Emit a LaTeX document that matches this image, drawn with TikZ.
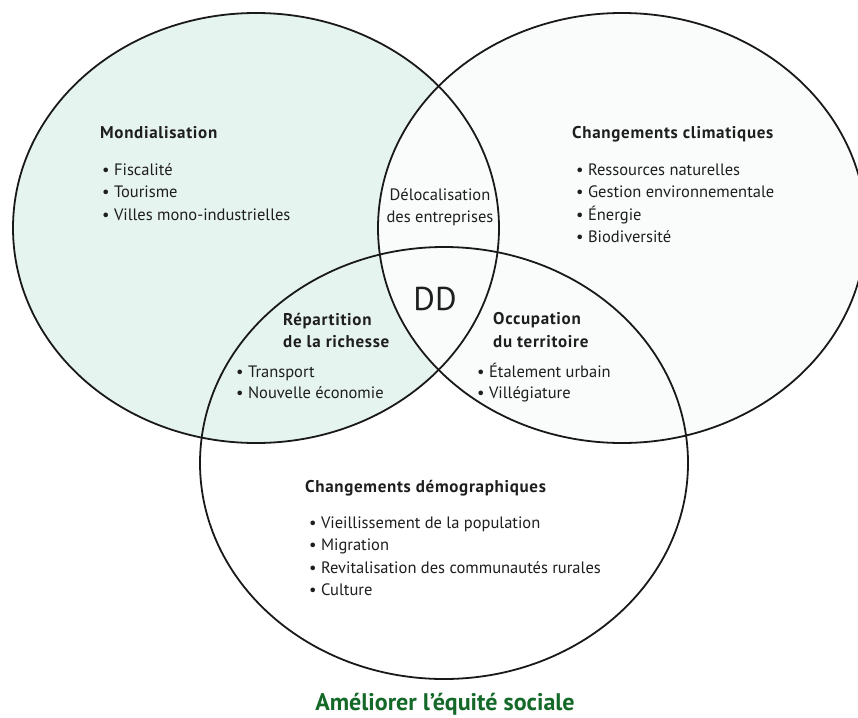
\documentclass[tikz,border=0pt]{standalone}
\usepackage{fontspec}
\setmainfont{PT Sans}
\definecolor{teal1}{RGB}{230,244,240}
\definecolor{faint}{RGB}{250,252,251}
\definecolor{linec}{RGB}{25,25,25}
\definecolor{txt}{RGB}{30,30,30}
\definecolor{green1}{RGB}{20,105,40}
\begin{document}
\begin{tikzpicture}[x=1pt,y=-1pt,
  outline/.style={draw=linec,line width=1.8pt},
  lbl/.style={anchor=base west,inner sep=0pt,text=txt,font=\fontsize{16.5}{19}\selectfont},
  head/.style={lbl,font=\fontsize{17}{19}\selectfont\bfseries\addfontfeatures{LetterSpace=4}},
  ctr/.style={anchor=base,inner sep=0pt,text=txt,font=\fontsize{16.5}{19}\selectfont}]
\useasboundingbox (0,0) rectangle (858,717);
\fill[white] (0,0) rectangle (858,717);
% fills
\fill[teal1] (256,228) ellipse [x radius=243,y radius=215];
\fill[faint] (622,228) ellipse [x radius=244,y radius=215];
% outlines
\draw[outline] (444,463) ellipse [x radius=244,y radius=216];
\draw[outline] (256,228) ellipse [x radius=243,y radius=215];
\draw[outline] (622,228) ellipse [x radius=244,y radius=215];
% Mondialisation
\node[head] (mond) at (100,138) {Mondialisation};
\node[lbl] (m1) at (102,175) {• Fiscalité};
\node[lbl] (m2) at (102,197) {• Tourisme};
\node[lbl] (m3) at (102,220) {• Villes mono-industrielles};
% Changements climatiques
\node[head] (clim) at (572,138) {Changements climatiques};
\node[lbl] (c1) at (576,175) {• Ressources naturelles};
\node[lbl] (c2) at (576,197) {• Gestion environnementale};
\node[lbl] (c3) at (576,220) {• Énergie};
\node[lbl] (c4) at (576,242) {• Biodiversité};
% Delocalisation
\node[ctr] (del1) at (440,200) {Délocalisation};
\node[ctr] (del2) at (440,222) {des entreprises};
% DD
\node[anchor=base,inner sep=0pt,text=txt,font=\fontsize{33}{36}\selectfont] (dd) at (435,310) {DD};
% Repartition
\node[head] (rep1) at (283,325) {Répartition};
\node[head] (rep2) at (283,347) {de la richesse};
\node[lbl] (r1) at (236,377) {• Transport};
\node[lbl] (r2) at (236,398) {• Nouvelle économie};
% Occupation
\node[head] (occ1) at (493,324) {Occupation};
\node[head] (occ2) at (493,347) {du territoire};
\node[lbl] (o1) at (477,377) {• Étalement urbain};
\node[lbl] (o2) at (477,398) {• Villégiature};
% Demographiques
\node[head] (dem) at (305,492) {Changements démographiques};
\node[lbl] (d1) at (309,528) {• Vieillissement de la population};
\node[lbl] (d2) at (309,550) {• Migration};
\node[lbl] (d3) at (309,573) {• Revitalisation des communautés rurales};
\node[lbl] (d4) at (309,595) {• Culture};
% footer
\node[anchor=base,inner sep=0pt,text=green1,font=\fontsize{24}{27}\selectfont\bfseries] (foot) at (445,710) {Améliorer l’équité sociale};
\end{tikzpicture}
\end{document}
